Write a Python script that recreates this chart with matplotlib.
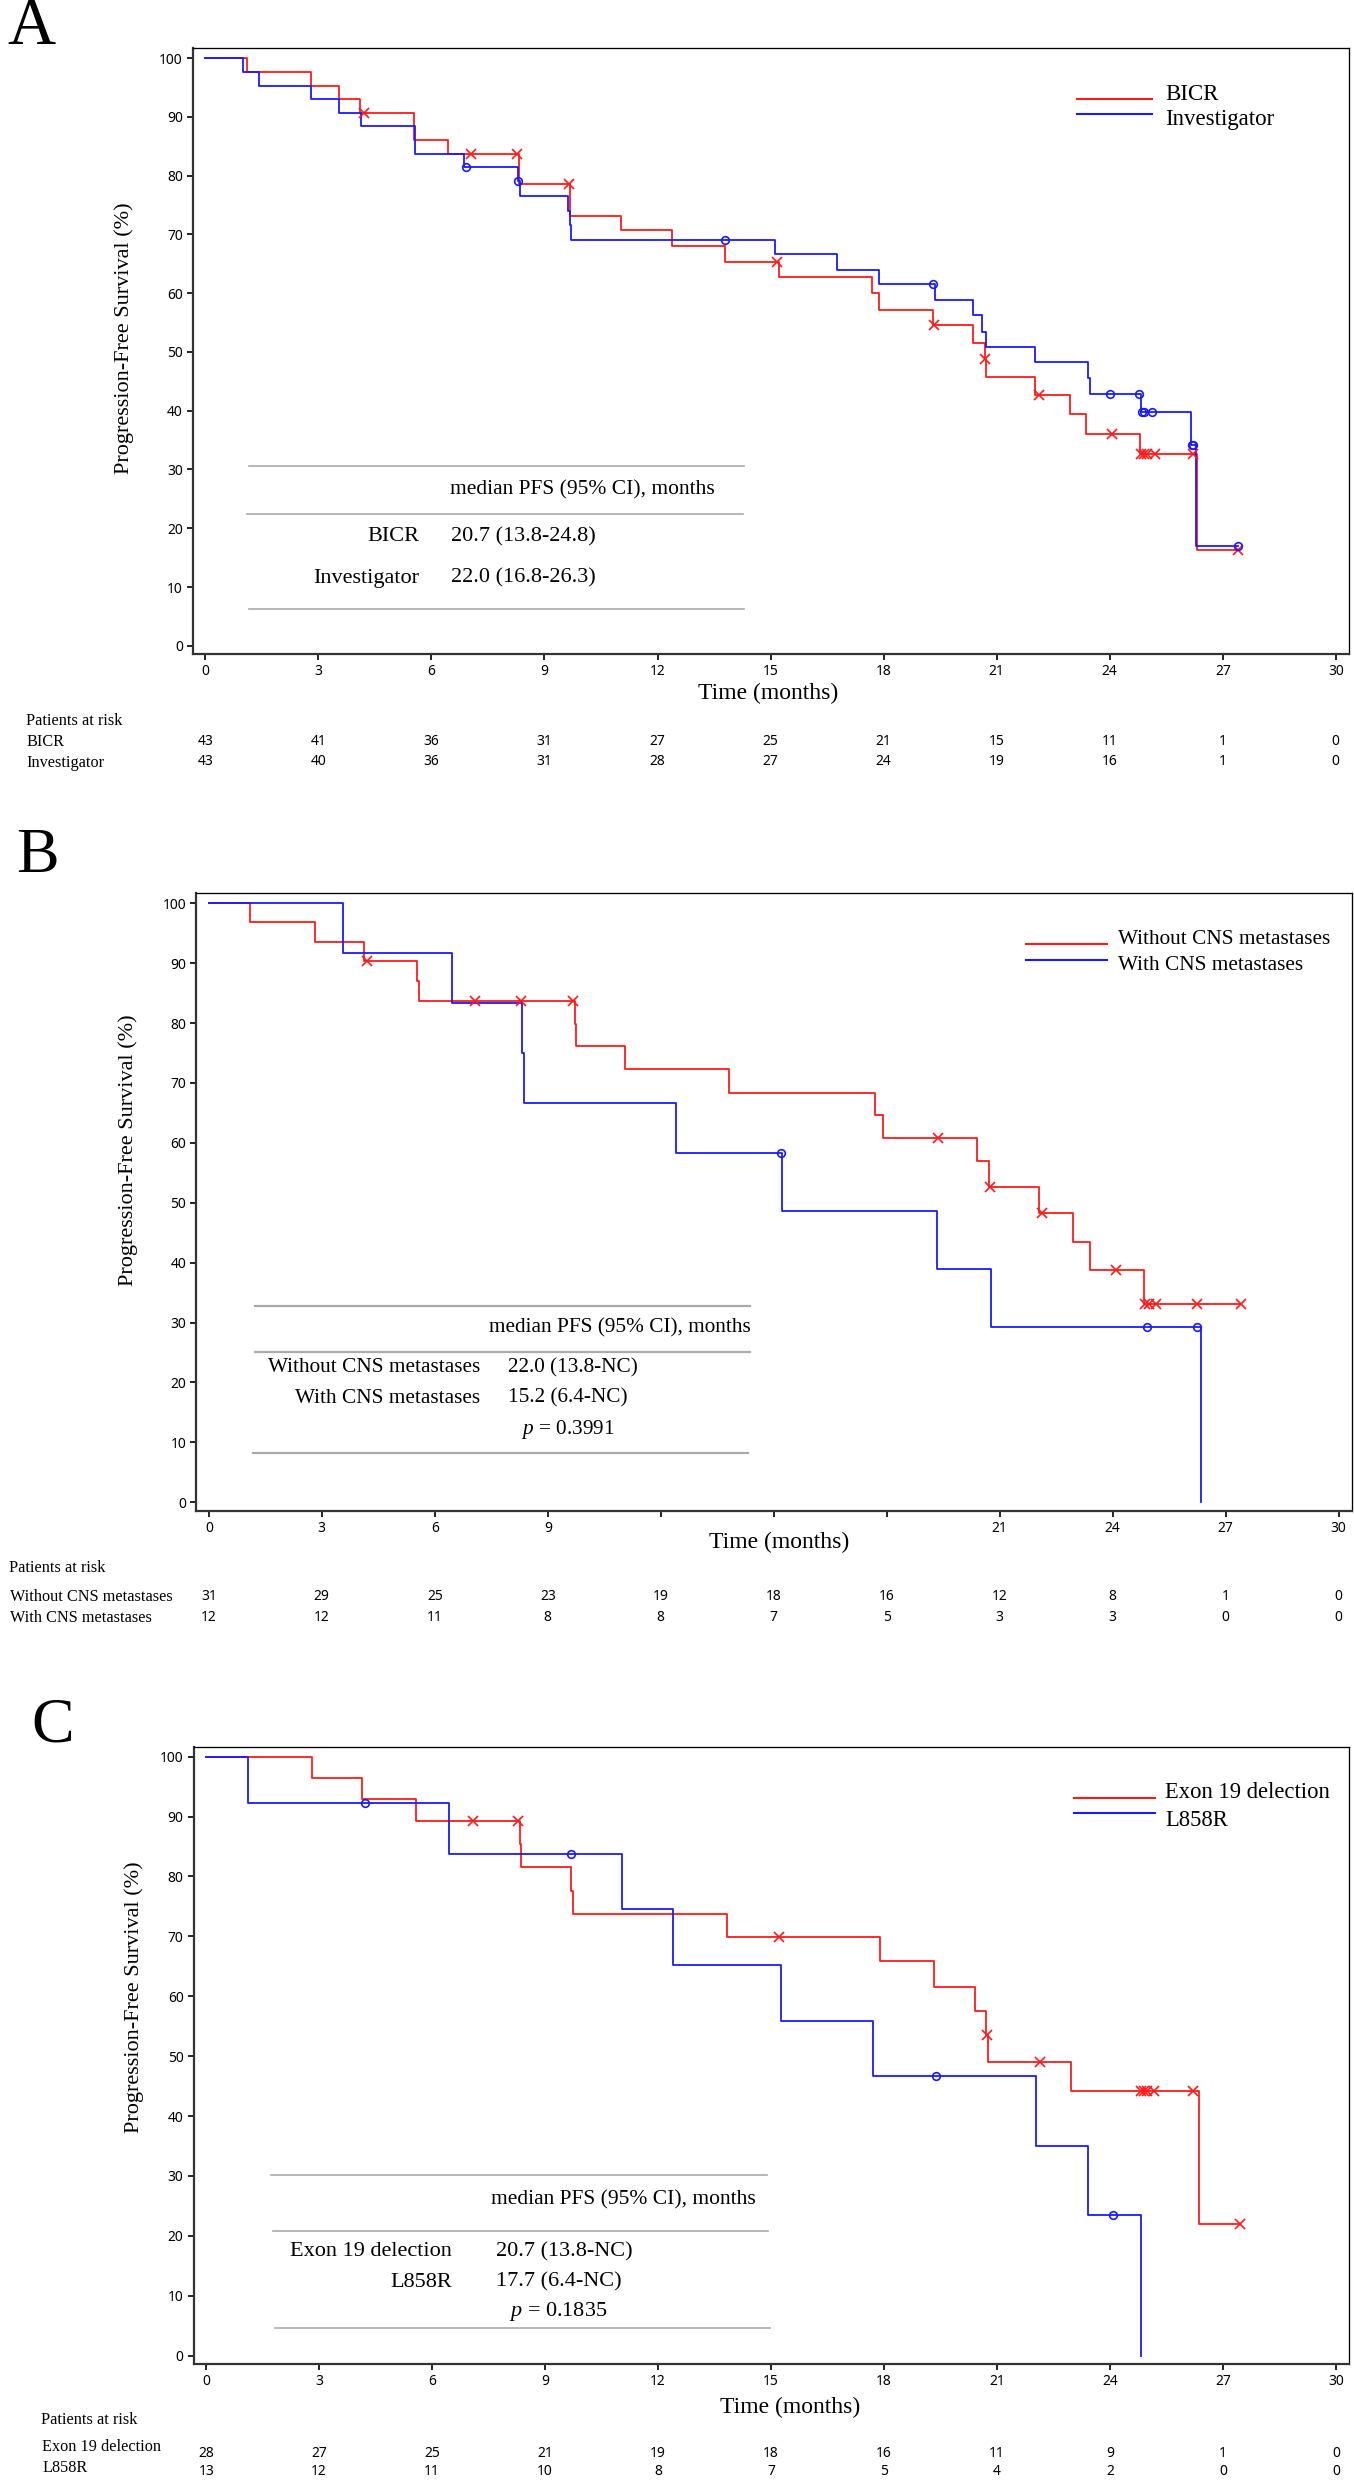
import matplotlib
matplotlib.use('Agg')
import matplotlib.pyplot as plt
import numpy as np
from matplotlib.lines import Line2D
from matplotlib.transforms import blended_transform_factory

SERIF = ['Liberation Serif', 'DejaVu Serif']
SANS = ['Noto Sans', 'DejaVu Sans']
plt.rcParams['font.family'] = SANS
plt.rcParams['mathtext.fontset'] = 'custom'
plt.rcParams['mathtext.it'] = 'Liberation Serif:italic'
plt.rcParams['mathtext.rm'] = 'Liberation Serif'

W, H = 1354, 2480
RED = '#ff1a1a'
BLUE = '#1a1aff'

# ---------------- data ----------------
xticks = [0, 3, 6, 9, 12, 15, 18, 21, 24, 27, 30]
yticks = [0, 10, 20, 30, 40, 50, 60, 70, 80, 90, 100]

# Panel A
a_labels = ['BICR', 'Investigator']
a_bicr_t = [0, 1.10, 2.81, 3.55, 4.11, 5.53, 6.44, 8.32, 9.69, 11.04, 12.38, 13.79, 15.22,
            17.68, 17.88, 19.31, 20.36, 20.68, 20.72, 22.03, 22.94, 23.38, 24.80, 26.31]
a_bicr_s = [100, 97.7, 95.3, 93.0, 90.7, 86.0, 83.7, 78.5, 73.2, 70.7, 68.1, 65.3, 62.8,
            60.0, 57.2, 54.6, 51.6, 48.8, 45.8, 42.7, 39.4, 36.1, 32.6, 16.3]
a_bicr_c = [4.22, 7.05, 8.27, 9.65, 15.17, 19.34, 20.70, 22.12, 24.05, 24.83, 24.90, 24.98,
            25.20, 26.22, 27.41]
a_inv_t = [0, 1.00, 1.42, 2.81, 3.55, 4.12, 5.57, 6.87, 8.29, 8.35, 9.63, 9.67, 9.71, 15.11,
           16.76, 17.89, 19.36, 20.38, 20.62, 20.71, 22.03, 23.43, 23.47, 24.83, 26.16, 26.30]
a_inv_s = [100, 97.7, 95.3, 93.0, 90.7, 88.4, 83.7, 81.4, 79.0, 76.5, 74.0, 71.6, 69.1, 66.6,
           64.0, 61.5, 58.8, 56.2, 53.4, 50.8, 48.2, 45.5, 42.8, 39.7, 34.2, 17.0]
a_inv_c = [6.91, 8.31, 13.80, 19.31, 24.02, 24.79, 24.86, 24.91, 25.12, 26.18, 26.20, 27.41]
a_risk_bicr = [43, 41, 36, 31, 27, 25, 21, 15, 11, 1, 0]
a_risk_inv = [43, 40, 36, 31, 28, 27, 24, 19, 16, 1, 0]
a_median = ['20.7 (13.8-24.8)', '22.0 (16.8-26.3)']

# Panel B
b_labels = ['Without CNS metastases', 'With CNS metastases']
b_wo_t = [0, 1.10, 2.82, 4.11, 5.53, 5.57, 9.71, 9.75, 11.05, 13.81, 17.70, 17.89, 20.40,
          20.72, 22.04, 22.96, 23.40, 24.84]
b_wo_s = [100, 96.8, 93.5, 90.3, 87.1, 83.7, 79.9, 76.1, 72.3, 68.4, 64.7, 60.8, 56.9,
          52.7, 48.3, 43.5, 38.7, 33.1]
b_wo_c = [4.21, 7.08, 8.29, 9.67, 19.37, 20.74, 22.13, 24.08, 24.86, 24.96, 25.14, 26.24, 27.42]
b_w_t = [0, 3.57, 6.46, 8.32, 8.37, 12.40, 15.23, 19.34, 20.76, 26.35]
b_w_s = [100, 91.7, 83.3, 75.0, 66.7, 58.3, 48.6, 38.9, 29.2, 0]
b_w_c = [15.20, 24.91, 26.24]
b_risk_wo = [31, 29, 25, 23, 19, 18, 16, 12, 8, 1, 0]
b_risk_w = [12, 12, 11, 8, 8, 7, 5, 3, 3, 0, 0]
b_median = ['22.0 (13.8-NC)', '15.2 (6.4-NC)']
b_p = '0.3991'
b_xticklabels = ['0', '3', '6', '9', '', '', '', '21', '24', '27', '30']

# Panel C
c_labels = ['Exon 19 delection', 'L858R']
c_ex_t = [0, 2.81, 4.13, 5.56, 8.33, 8.37, 9.70, 9.74, 13.83, 17.90, 19.34, 20.41, 20.72,
          20.76, 22.96, 26.37]
c_ex_s = [100, 96.4, 92.9, 89.3, 85.4, 81.5, 77.6, 73.7, 69.9, 65.8, 61.6, 57.5, 53.5,
          49.0, 44.1, 22.0]
c_ex_c = [7.08, 8.29, 15.20, 20.74, 22.14, 24.83, 24.90, 24.98, 25.16, 26.21, 27.45]
c_l_t = [0, 1.11, 6.46, 11.05, 12.39, 15.26, 17.70, 22.04, 23.42, 24.83]
c_l_s = [100, 92.3, 83.8, 74.5, 65.2, 55.9, 46.6, 35.0, 23.4, 0]
c_l_c = [4.23, 9.69, 19.39, 24.09]
c_risk_ex = [28, 27, 25, 21, 19, 18, 16, 11, 9, 1, 0]
c_risk_l = [13, 12, 11, 10, 8, 7, 5, 4, 2, 0, 0]
c_median = ['20.7 (13.8-NC)', '17.7 (6.4-NC)']
c_p = '0.1835'

# ---------------- helpers ----------------
fig = plt.figure(figsize=(W / 100, H / 100), dpi=100)


def fxy(x, y):
    return x / W, 1 - y / H


def ftext(x, y, s, size, ha='left', va='center', family=SERIF, **kw):
    X, Y = fxy(x, y)
    fig.text(X, Y, s, fontsize=size, ha=ha, va=va, family=family, **kw)


def fline(x0, x1, y, color='#aaaaaa', lw=1.2):
    X0, Y = fxy(x0, y)
    X1, _ = fxy(x1, y)
    fig.add_artist(Line2D([X0, X1], [Y, Y], color=color, lw=lw, transform=fig.transFigure))


def make_axes(left, right, top, bottom):
    ax = fig.add_axes([left / W, 1 - bottom / H, (right - left) / W, (bottom - top) / H])
    ax.set_xlim(-0.33, 30.35)
    ax.set_ylim(-1.4, 101.66)
    ax.set_xticks(xticks)
    ax.set_yticks(yticks)
    ax.tick_params(direction='out', length=4.3, width=1.2, labelsize=10, pad=3, colors='black')
    for lab in ax.get_xticklabels() + ax.get_yticklabels():
        lab.set_family(SANS)
    for sp in ['left', 'bottom']:
        ax.spines[sp].set_linewidth(1.6)
        ax.spines[sp].set_color('#333333')
    for sp in ['top', 'right']:
        ax.spines[sp].set_linewidth(0.95)
        ax.spines[sp].set_color('black')
    return ax


def km(ax, times, surv, cens, color, marker, end=None):
    t = list(times)
    s = list(surv)
    if end is not None:
        t.append(end)
        s.append(surv[-1])
    ax.step(t, s, where='post', color=color, lw=1.3, zorder=3)
    idx = np.searchsorted(np.array(times), np.array(cens), side='right') - 1
    cy = np.array(surv)[idx]
    ax.plot(cens, cy, ls='none', marker=marker, ms=6.5 if marker == 'x' else 5.5,
            mfc='none', mec=color, mew=1.2, zorder=4)


def risk_rows(ax, rows, ys, size=10):
    tr = blended_transform_factory(ax.transData, fig.transFigure)
    for vals, y in zip(rows, ys):
        for xt, v in zip(xticks, vals):
            ax.text(xt, 1 - y / H, str(v), transform=tr, ha='center', va='center',
                    fontsize=size, family=SANS)


def legend(x0, x1, xt, line_ys, text_ys, labels, size):
    for ly, ty, lab, col in zip(line_ys, text_ys, labels, [RED, BLUE]):
        fline(x0, x1, ly, color=col, lw=1.5)
        ftext(xt, ty, lab, size)


# ---------------- Panel A ----------------
axA = make_axes(192.9, 1349, 48.3, 654)
km(axA, a_bicr_t, a_bicr_s, a_bicr_c, RED, 'x', end=a_bicr_c[-1])
km(axA, a_inv_t, a_inv_s, a_inv_c, BLUE, 'o', end=a_inv_c[-1])
ftext(31, 27, 'A', 48, ha='center')
ftext(124, 338, 'Progression-Free Survival (%)', 16, ha='center', rotation=90)
ftext(768, 693, 'Time (months)', 17, ha='center')
legend(1076.6, 1151.6, 1165, [99, 114.3], [94.7, 119], a_labels, 16.5)
fline(249, 744, 466.3)
fline(247, 742.5, 514)
fline(249, 744, 608.7)
ftext(450, 490, 'median PFS (95% CI), months', 15.5)
ftext(419.6, 536.7, a_labels[0], 16, ha='right')
ftext(451, 536.7, a_median[0], 16)
ftext(419.6, 578.3, a_labels[1], 16, ha='right')
ftext(451, 578.3, a_median[1], 16)
ftext(26, 720.7, 'Patients at risk', 11.7)
ftext(26, 741.7, a_labels[0], 11.7)
ftext(26, 762.7, a_labels[1], 11.7)
risk_rows(axA, [a_risk_bicr, a_risk_inv], [741.7, 761.5])

# ---------------- Panel B ----------------
axB = make_axes(196.4, 1351.8, 893.3, 1510.7)
km(axB, b_wo_t, b_wo_s, b_wo_c, RED, 'x', end=b_wo_c[-1])
km(axB, b_w_t, b_w_s, b_w_c, BLUE, 'o')
axB.set_xticklabels(b_xticklabels)
for lab in axB.get_xticklabels():
    lab.set_family(SANS)
ftext(37, 857, 'B', 46, ha='center')
ftext(128, 1150, 'Progression-Free Survival (%)', 16, ha='center', rotation=90)
ftext(779, 1542.7, 'Time (months)', 17, ha='center')
legend(1026, 1107, 1118, [944, 960], [939, 965], b_labels, 15.3)
fline(254.7, 750.4, 1306, lw=1.6)
fline(254.7, 750.4, 1352.3, lw=1.6)
fline(253, 748, 1452.7, lw=1.6)
ftext(750.4, 1328.3, 'median PFS (95% CI), months', 15.3, ha='right')
ftext(480, 1367.7, b_labels[0], 15.3, ha='right')
ftext(507.8, 1367.7, b_median[0], 15.3)
ftext(480, 1398.3, b_labels[1], 15.3, ha='right')
ftext(507.8, 1398.3, b_median[1], 15.3)
ftext(520.7, 1429.3, r'$\it{p}$ = ' + b_p, 15.3)
ftext(8.6, 1567.7, 'Patients at risk', 11.7)
ftext(9.8, 1597, b_labels[0], 11.7)
ftext(9.8, 1618.3, b_labels[1], 11.7)
risk_rows(axB, [b_risk_wo, b_risk_w], [1596.7, 1617.5])

# ---------------- Panel C ----------------
axC = make_axes(193.75, 1349, 1746.7, 2364)
km(axC, c_ex_t, c_ex_s, c_ex_c, RED, 'x', end=c_ex_c[-1])
km(axC, c_l_t, c_l_s, c_l_c, BLUE, 'o')
ftext(53, 1726, 'C', 46, ha='center')
ftext(134, 1997, 'Progression-Free Survival (%)', 16, ha='center', rotation=90)
ftext(790, 2407.7, 'Time (months)', 17, ha='center')
legend(1074, 1155, 1165, [1797.7, 1812.7], [1792.5, 1820], c_labels, 16.3)
fline(271, 766.7, 2174.7)
fline(273, 768, 2231)
fline(274.5, 770, 2328.3)
ftext(491, 2200, 'median PFS (95% CI), months', 15.5)
ftext(451.8, 2251.7, c_labels[0], 16, ha='right')
ftext(496.4, 2251.7, c_median[0], 16)
ftext(451.8, 2282.3, c_labels[1], 16, ha='right')
ftext(496.4, 2282.3, c_median[1], 16)
ftext(509, 2311.7, r'$\it{p}$ = ' + c_p, 16)
ftext(41, 2420, 'Patients at risk', 11.7)
ftext(42, 2446.7, c_labels[0], 11.7)
ftext(42, 2468.3, c_labels[1], 11.7)
risk_rows(axC, [c_risk_ex, c_risk_l], [2453.3, 2471.7])

fig.savefig('out.png', dpi=100)
